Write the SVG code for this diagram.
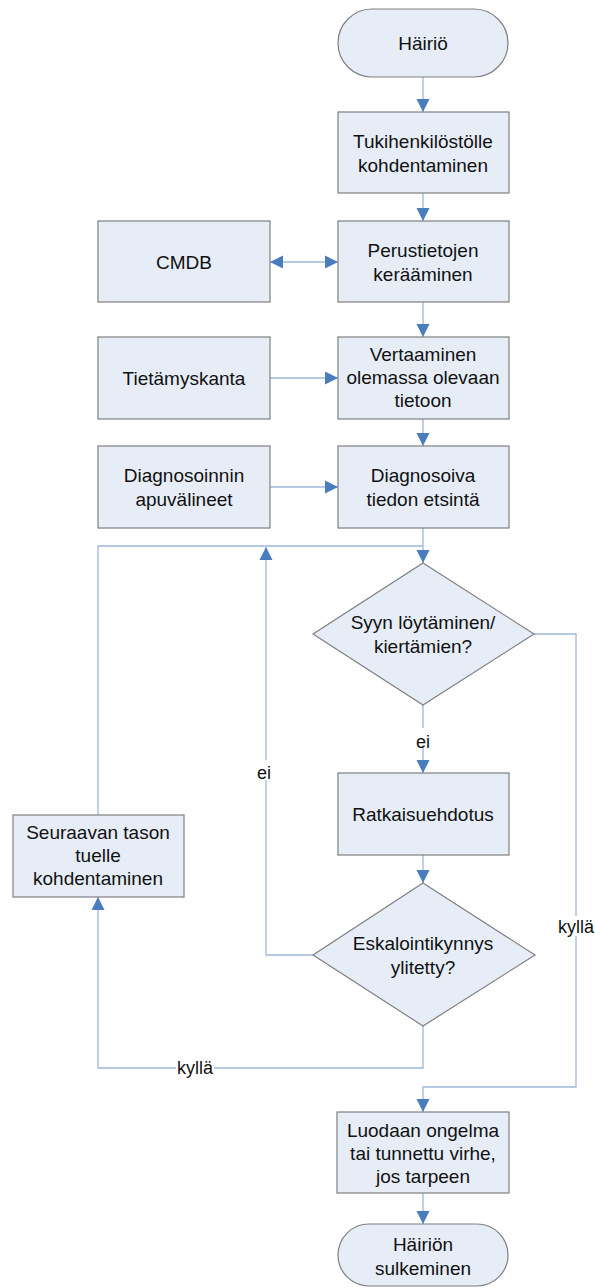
<svg xmlns="http://www.w3.org/2000/svg" width="595" height="1288" viewBox="0 0 595 1288">
  <style>
    .node { fill: #e7edf7; stroke: #7f7f7f; stroke-width: 1.2; }
    .lbl { font-family: "Liberation Sans", Arial, sans-serif; font-size: 19px; fill: #111; text-anchor: middle; }
    .edge { fill: none; stroke: #9db7dc; stroke-width: 1.3; }
    .elbl { font-family: "Liberation Sans", Arial, sans-serif; font-size: 18px; fill: #111; text-anchor: middle; }
    .bg { fill: #ffffff; }
  </style>
  <defs>
    <marker id="arrow" markerUnits="userSpaceOnUse" markerWidth="14" markerHeight="14" viewBox="0 0 14 14" refX="13" refY="7" orient="auto-start-reverse">
      <path d="M0,0.5 L13,7 L0,13.5 Z" fill="#4a7cc0"/>
    </marker>
  </defs>

  <rect width="595" height="1288" fill="#ffffff"/>

  <!-- connectors -->
  <g id="connectors">
    <path class="edge" d="M423,77 V112" marker-end="url(#arrow)"/>
    <path class="edge" d="M423,193 V221" marker-end="url(#arrow)"/>
    <path class="edge" d="M270,262 H338" marker-start="url(#arrow)" marker-end="url(#arrow)"/>
    <path class="edge" d="M423,302 V337" marker-end="url(#arrow)"/>
    <path class="edge" d="M270,378 H338" marker-end="url(#arrow)"/>
    <path class="edge" d="M423,419 V446" marker-end="url(#arrow)"/>
    <path class="edge" d="M270,487 H338" marker-end="url(#arrow)"/>
    <path class="edge" d="M423,528 V563" marker-end="url(#arrow)"/>
    <path class="edge" d="M98,815 V546 H423"/>
    <path class="edge" d="M534,634 H576 V1087 H423 V1112" marker-end="url(#arrow)"/>
    <path class="edge" d="M423,705 V773" marker-end="url(#arrow)"/>
    <path class="edge" d="M423,855 V883" marker-end="url(#arrow)"/>
    <path class="edge" d="M313,955 H266 V547" marker-end="url(#arrow)"/>
    <path class="edge" d="M423,1026 V1068 H98 V897" marker-end="url(#arrow)"/>
    <path class="edge" d="M423,1193 V1224" marker-end="url(#arrow)"/>

    <!-- branch labels -->
    <rect class="bg" x="413" y="728" width="20" height="20"/>
    <text class="elbl" x="423" y="748">ei</text>
    <rect class="bg" x="254" y="760" width="20" height="20"/>
    <text class="elbl" x="264" y="779">ei</text>
    <rect class="bg" x="176" y="1058" width="38" height="20"/>
    <text class="elbl" x="195" y="1074">kyllä</text>
    <rect class="bg" x="557" y="916" width="38" height="20"/>
    <text class="elbl" x="576" y="933">kyllä</text>
  </g>

  <g id="start">
    <rect class="node" x="338" y="9" width="170" height="68" rx="34" ry="34"/>
    <text class="lbl" x="423" y="50">Häiriö</text>
  </g>

  <g id="assign">
    <rect class="node" x="338" y="112" width="171" height="81"/>
    <text class="lbl" x="423" y="148">Tukihenkilöstölle</text>
    <text class="lbl" x="423" y="172">kohdentaminen</text>
  </g>

  <g id="cmdb">
    <rect class="node" x="98" y="221" width="172" height="81"/>
    <text class="lbl" x="184" y="269">CMDB</text>
  </g>

  <g id="collect">
    <rect class="node" x="338" y="221" width="171" height="81"/>
    <text class="lbl" x="423" y="257">Perustietojen</text>
    <text class="lbl" x="423" y="281">kerääminen</text>
  </g>

  <g id="knowledge">
    <rect class="node" x="98" y="337" width="172" height="82"/>
    <text class="lbl" x="184" y="385">Tietämyskanta</text>
  </g>

  <g id="compare">
    <rect class="node" x="338" y="337" width="171" height="82"/>
    <text class="lbl" x="423" y="361">Vertaaminen</text>
    <text class="lbl" x="423" y="384">olemassa olevaan</text>
    <text class="lbl" x="423" y="407">tietoon</text>
  </g>

  <g id="tools">
    <rect class="node" x="98" y="446" width="172" height="82"/>
    <text class="lbl" x="184" y="482">Diagnosoinnin</text>
    <text class="lbl" x="184" y="506">apuvälineet</text>
  </g>

  <g id="diagnose">
    <rect class="node" x="338" y="446" width="171" height="82"/>
    <text class="lbl" x="423" y="482">Diagnosoiva</text>
    <text class="lbl" x="423" y="506">tiedon etsintä</text>
  </g>

  <g id="cause">
    <polygon class="node" points="423,563 534,634 423,705 313,634"/>
    <text class="lbl" x="423" y="629">Syyn löytäminen/</text>
    <text class="lbl" x="423" y="653">kiertämien?</text>
  </g>

  <g id="solution">
    <rect class="node" x="338" y="773" width="171" height="82"/>
    <text class="lbl" x="423" y="821">Ratkaisuehdotus</text>
  </g>

  <g id="escalate">
    <polygon class="node" points="423,883 535,955 423,1026 313,955"/>
    <text class="lbl" x="423" y="950">Eskalointikynnys</text>
    <text class="lbl" x="423" y="974">ylitetty?</text>
  </g>

  <g id="nextlevel">
    <rect class="node" x="13" y="815" width="171" height="82"/>
    <text class="lbl" x="98" y="839">Seuraavan tason</text>
    <text class="lbl" x="98" y="862">tuelle</text>
    <text class="lbl" x="98" y="885">kohdentaminen</text>
  </g>

  <g id="problem">
    <rect class="node" x="337" y="1112" width="172" height="81"/>
    <text class="lbl" x="423" y="1137">Luodaan ongelma</text>
    <text class="lbl" x="423" y="1160">tai tunnettu virhe,</text>
    <text class="lbl" x="423" y="1183">jos tarpeen</text>
  </g>

  <g id="end">
    <rect class="node" x="338" y="1224" width="170" height="62" rx="31" ry="31"/>
    <text class="lbl" x="423" y="1251">Häiriön</text>
    <text class="lbl" x="423" y="1275">sulkeminen</text>
  </g>
</svg>
